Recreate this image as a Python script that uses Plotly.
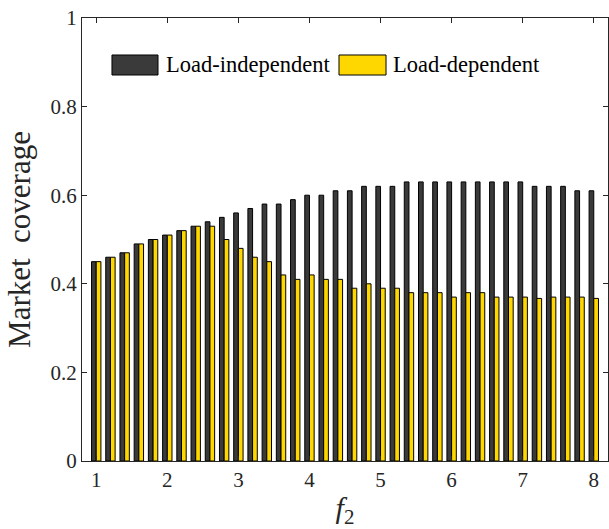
import plotly.graph_objects as go

f2 = [1.0, 1.2, 1.4, 1.6, 1.8, 2.0, 2.2, 2.4, 2.6, 2.8, 3.0, 3.2, 3.4, 3.6, 3.8, 4.0, 4.2, 4.4,
      4.6, 4.8, 5.0, 5.2, 5.4, 5.6, 5.8, 6.0, 6.2, 6.4, 6.6, 6.8, 7.0, 7.2, 7.4, 7.6, 7.8, 8.0]
load_independent = [0.45, 0.46, 0.47, 0.49, 0.50, 0.51, 0.52, 0.53, 0.54, 0.55, 0.56, 0.57,
                    0.58, 0.58, 0.59, 0.60, 0.60, 0.61, 0.61, 0.62, 0.62, 0.62, 0.63, 0.63,
                    0.63, 0.63, 0.63, 0.63, 0.63, 0.63, 0.63, 0.62, 0.62, 0.62, 0.61, 0.61]
load_dependent = [0.45, 0.46, 0.47, 0.49, 0.50, 0.51, 0.52, 0.53, 0.53, 0.50, 0.48, 0.46,
                  0.45, 0.42, 0.41, 0.42, 0.41, 0.41, 0.39, 0.40, 0.39, 0.39, 0.38, 0.38,
                  0.38, 0.37, 0.38, 0.38, 0.37, 0.37, 0.37, 0.367, 0.37, 0.37, 0.37, 0.367]
series_names = ["Load-independent", "Load-dependent"]
series_colors = ["#3a3a3a", "#FFD700"]
x_ticks = [1, 2, 3, 4, 5, 6, 7, 8]
y_ticks = [0, 0.2, 0.4, 0.6, 0.8, 1]
y_tick_labels = ["0", "0.2", "0.4", "0.6", "0.8", "1"]

FONT = "Liberation Serif"
AX = "#262626"

fig = go.Figure()
for name, vals, col in zip(series_names, [load_independent, load_dependent], series_colors):
    fig.add_trace(go.Bar(x=f2, y=vals, name=name, marker=dict(color=col, line=dict(color="black", width=1)),
                         showlegend=False))

# manual legend (wide swatches like the original)
legend_items = [
    (series_names[0], series_colors[0], 0.057, 0.1445, 0.156),
    (series_names[1], series_colors[1], 0.4886, 0.578, 0.5875),
]
for name, col, x0, x1, xt in legend_items:
    fig.add_shape(type="rect", xref="paper", yref="paper", x0=x0, x1=x1, y0=0.8713, y1=0.9165,
                  fillcolor=col, line=dict(color="black", width=1))
    fig.add_annotation(xref="paper", yref="paper", x=xt, y=0.896, text=name, showarrow=False,
                       xanchor="left", yanchor="middle", font=dict(family=FONT, size=22.5, color="black"))

fig.update_layout(
    width=609, height=529,
    margin=dict(l=82, r=1, t=18, b=68),
    paper_bgcolor="white", plot_bgcolor="white",
    barmode="group", bargap=0.34, bargroupgap=0.0,
    font=dict(family=FONT, color=AX),
)
fig.update_xaxes(range=[0.8, 8.2], tickvals=x_ticks, ticktext=[str(v) for v in x_ticks],
                 ticks="inside", ticklen=5, tickcolor=AX, showline=True, linecolor=AX, linewidth=1,
                 mirror="ticks", showgrid=False, zeroline=False,
                 tickfont=dict(family=FONT, size=21, color=AX),
                 title=dict(text="<i>f</i><sub>2</sub>", font=dict(family=FONT, size=30, color=AX), standoff=6))
fig.update_yaxes(range=[0, 1], tickvals=y_ticks, ticktext=y_tick_labels,
                 ticks="inside", ticklen=5, tickcolor=AX, showline=True, linecolor=AX, linewidth=1,
                 mirror="ticks", showgrid=False, zeroline=False,
                 tickfont=dict(family=FONT, size=21, color=AX),
                 title=dict(text="Market&nbsp; coverage", font=dict(family=FONT, size=31, color=AX), standoff=10))

fig.write_html("out.html")
